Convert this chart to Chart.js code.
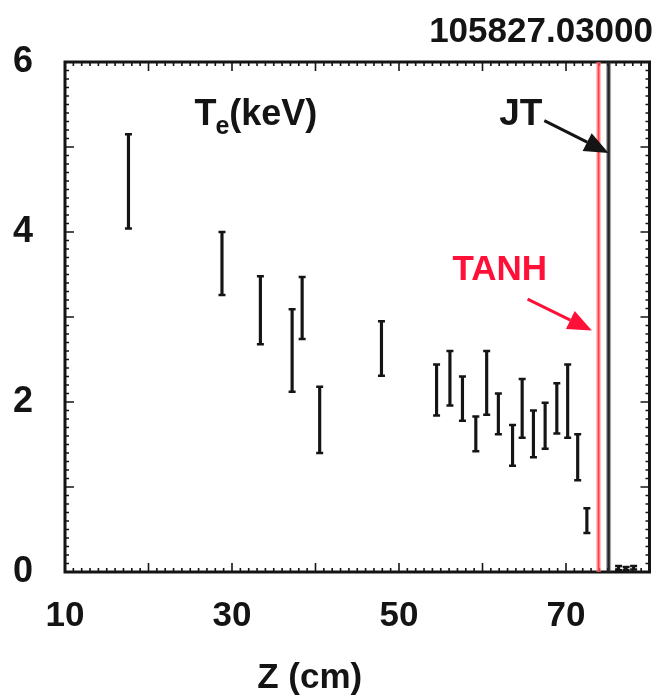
<!DOCTYPE html>
<html>
<head>
<meta charset="utf-8">
<title>Te profile 105827.03000</title>
<script src="https://cdn.jsdelivr.net/npm/chart.js@4.4.0/dist/chart.umd.min.js"></script>
<style>
  body { margin: 0; background: #fff; }
  #wrap { width: 656px; height: 700px; }
</style>
</head>
<body>
<div id="wrap"><canvas id="chart"></canvas></div>
<script>
// Thomson channels: Z (cm) and Te error bar ends (keV)
var zPos   = [17.6, 28.8, 33.4, 37.2, 38.4, 40.5, 47.9, 54.5, 56.1, 57.6, 59.2, 60.5, 61.9, 63.6, 64.75, 66.1, 67.5, 68.9, 70.2, 71.4, 72.5, 76.3, 77.2, 78.1]
var teLow  = [4.04, 3.26, 2.68, 2.12, 2.74, 1.40, 2.31, 1.84, 1.96, 1.78, 1.42, 1.85, 1.62, 1.25, 1.58, 1.35, 1.45, 1.63, 1.58, 1.08, 0.46, 0.02, 0.02, 0.03]
var teHigh = [5.15, 4.00, 3.48, 3.09, 3.47, 2.18, 2.95, 2.44, 2.60, 2.30, 1.83, 2.60, 2.10, 1.73, 2.27, 1.90, 1.99, 2.22, 2.44, 1.62, 0.75, 0.07, 0.06, 0.07]

// separatrix positions (cm)
var tanhZ = 73.9
var jtZ = 75.1

var xTickLabels = [10, 30, 50, 70]
var yTickLabels = [0, 2, 4, 6]

var fam = "'Liberation Sans Narrow', 'Liberation Sans', Arial, sans-serif"
var ink = '#141414'
var red = '#ff1038'

var bars = zPos.map(function (z, i) { return { x: z, y: [teLow[i], teHigh[i]] } })
var tops = zPos.map(function (z, i) { return { x: z, y: teHigh[i] } })
var bots = zPos.map(function (z, i) { return { x: z, y: teLow[i] } })

function vline(z, color, width) {
    return {
        type: 'line',
        data: [{ x: z, y: 0 }, { x: z, y: 6 }],
        borderColor: color,
        borderWidth: width,
        pointRadius: 0
    }
}

function drawArrow(ctx, x1, y1, x2, y2, color) {
    var ang = Math.atan2(y2 - y1, x2 - x1)
    var head = 24, half = 10
    var bx = x2 - head * Math.cos(ang), by = y2 - head * Math.sin(ang)
    ctx.strokeStyle = color
    ctx.fillStyle = color
    ctx.lineWidth = 3
    ctx.beginPath()
    ctx.moveTo(x1, y1)
    ctx.lineTo(bx, by)
    ctx.stroke()
    ctx.beginPath()
    ctx.moveTo(x2, y2)
    ctx.lineTo(bx + half * Math.sin(ang), by - half * Math.cos(ang))
    ctx.lineTo(bx - half * Math.sin(ang), by + half * Math.cos(ang))
    ctx.closePath()
    ctx.fill()
}

// box with inward ticks on all four sides
var frameTicks = {
    id: 'frameTicks',
    beforeDatasetsDraw: function (chart) {
        var ctx = chart.ctx, a = chart.chartArea
        var xs = chart.scales.x, ys = chart.scales.y
        ctx.save()
        ctx.strokeStyle = ink
        ctx.lineWidth = 1.6
        ctx.beginPath()
        for (var v = 10; v <= 80; v++) {
            var px = xs.getPixelForValue(v)
            var len = v % 10 === 0 ? 9 : 4
            ctx.moveTo(px, a.bottom); ctx.lineTo(px, a.bottom - len)
            ctx.moveTo(px, a.top); ctx.lineTo(px, a.top + len)
        }
        for (var i = 0; i <= 60; i++) {
            var py = ys.getPixelForValue(i / 10)
            var len2 = i % 10 === 0 ? 9 : 4
            ctx.moveTo(a.left, py); ctx.lineTo(a.left + len2, py)
            ctx.moveTo(a.right, py); ctx.lineTo(a.right - len2, py)
        }
        ctx.stroke()
        ctx.lineWidth = 3
        ctx.strokeRect(a.left, a.top, a.right - a.left, a.bottom - a.top)
        ctx.restore()
    }
}

// labels and arrows
var notes = {
    id: 'notes',
    afterDatasetsDraw: function (chart) {
        var ctx = chart.ctx, a = chart.chartArea
        var xs = chart.scales.x, ys = chart.scales.y
        ctx.save()
        ctx.textBaseline = 'alphabetic'
        ctx.textAlign = 'left'
        ctx.fillStyle = ink

        // T_e(keV)
        var tx = xs.getPixelForValue(25.5), ty = ys.getPixelForValue(5.26)
        ctx.font = 'bold 36px ' + fam
        ctx.fillText('T', tx, ty)
        var w = ctx.measureText('T').width
        ctx.font = 'bold 25px ' + fam
        ctx.fillText('e', tx + w - 1, ty + 9)
        var w2 = ctx.measureText('e').width
        ctx.font = 'bold 36px ' + fam
        ctx.fillText('(keV)', tx + w + w2 - 1, ty)

        ctx.font = 'bold 37px ' + fam
        ctx.fillText('JT', xs.getPixelForValue(62.0), ys.getPixelForValue(5.26))
        drawArrow(ctx, xs.getPixelForValue(67.4), ys.getPixelForValue(5.31),
            xs.getPixelForValue(jtZ), ys.getPixelForValue(4.93), ink)

        ctx.fillStyle = red
        ctx.font = 'bold 35px ' + fam
        ctx.fillText('TANH', xs.getPixelForValue(56.4), ys.getPixelForValue(3.44))
        drawArrow(ctx, xs.getPixelForValue(65.4), ys.getPixelForValue(3.21),
            xs.getPixelForValue(73.1), ys.getPixelForValue(2.84), red)

        // axis title
        ctx.fillStyle = ink
        ctx.textAlign = 'center'
        ctx.textBaseline = 'middle'
        ctx.font = 'bold 35px ' + fam
        ctx.fillText('Z (cm)', xs.getPixelForValue(39.3), a.bottom + 106)
        ctx.restore()
    }
}

var ctx = document.getElementById('chart').getContext('2d')
var myChart = new Chart(ctx, {
    type: 'bar',
    data: {
        datasets: [
            vline(tanhZ, 'rgba(255,130,140,0.5)', 5),
            vline(tanhZ, '#ff0000', 2),
            vline(jtZ, 'rgba(60,60,60,0.45)', 5),
            vline(jtZ, '#111111', 2.5),
            {
                type: 'bar',
                data: bars,
                backgroundColor: ink,
                borderWidth: 0,
                barThickness: 2.5,
                grouped: false
            },
            {
                type: 'scatter',
                data: tops,
                pointStyle: 'line',
                pointRadius: 3.5,
                borderColor: ink,
                borderWidth: 2.5,
                showLine: false
            },
            {
                type: 'scatter',
                data: bots,
                pointStyle: 'line',
                pointRadius: 3.5,
                borderColor: ink,
                borderWidth: 2.5,
                showLine: false
            }
        ]
    },
    options: {
        responsive: true,
        maintainAspectRatio: false,
        animation: false,
        layout: { padding: { top: 0, right: 3, bottom: 0, left: 0 } },
        plugins: {
            legend: { display: false },
            tooltip: { enabled: false },
            title: {
                display: true,
                text: '105827.03000',
                align: 'end',
                color: ink,
                font: { family: fam, size: 35, weight: 'bold' },
                padding: { top: 11, bottom: 9 }
            }
        },
        scales: {
            x: {
                type: 'linear',
                min: 10,
                max: 80,
                offset: false,
                grid: { display: false, drawTicks: false },
                border: { display: false },
                afterBuildTicks: function (s) { s.ticks = xTickLabels.map(function (v) { return { value: v } }) },
                afterFit: function (s) { s.height = 128; s.paddingLeft = 0; s.paddingRight = 0 },
                ticks: { color: ink, padding: 23, maxRotation: 0, font: { family: fam, size: 35, weight: 'bold' } }
            },
            y: {
                type: 'linear',
                min: 0,
                max: 6,
                grid: { display: false, drawTicks: false },
                border: { display: false },
                afterBuildTicks: function (s) { s.ticks = yTickLabels.map(function (v) { return { value: v } }) },
                afterFit: function (s) { s.width = 65; s.paddingTop = 0; s.paddingBottom = 0 },
                ticks: { color: ink, padding: 32, font: { family: fam, size: 36, weight: 'bold' } }
            }
        }
    },
    plugins: [frameTicks, notes]
})
</script>
</body>
</html>
